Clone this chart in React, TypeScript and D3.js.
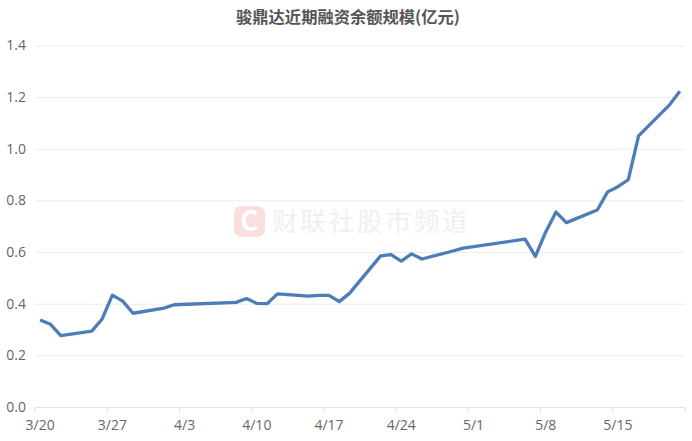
import React, { useEffect, useRef } from "react";
import * as d3 from "d3";

const WIDTH = 692;
const HEIGHT = 441;
const FONT = '"Noto Sans CJK SC", "Noto Sans", sans-serif';
const NUM_FONT = '"Open Sans", "Noto Sans", sans-serif';

const TITLE = "骏鼎达近期融资余额规模(亿元)";
const WATERMARK = "财联社股市频道";
const yTicks = [0, 0.2, 0.4, 0.6, 0.8, 1.0, 1.2, 1.4];

// calendar days from 3/20 to 5/21; non-trading days are null and bridged by the line
const monthDays: [number, number, number][] = [
  [3, 20, 31],
  [4, 1, 30],
  [5, 1, 21],
];
const days: string[] = monthDays.flatMap(([m, from, to]) =>
  d3.range(from, to + 1).map((d) => `${m}/${d}`)
);
const tickDays = ["3/20", "3/27", "4/3", "4/10", "4/17", "4/24", "5/1", "5/8", "5/15"];

const dates = [
  "3/20", "3/21", "3/22", "3/25", "3/26", "3/27", "3/28", "3/29", "4/1", "4/2",
  "4/8", "4/9", "4/10", "4/11", "4/12", "4/15", "4/16", "4/17", "4/18", "4/19",
  "4/22", "4/23", "4/24", "4/25", "4/26", "4/29", "4/30", "5/6", "5/7", "5/8",
  "5/9", "5/10", "5/13", "5/14", "5/15", "5/16", "5/17", "5/20", "5/21",
];
const balance = [
  0.339, 0.322, 0.278, 0.296, 0.342, 0.435, 0.412, 0.365, 0.385, 0.398,
  0.407, 0.422, 0.403, 0.402, 0.44, 0.431, 0.434, 0.434, 0.41, 0.443,
  0.587, 0.592, 0.567, 0.595, 0.575, 0.606, 0.617, 0.652, 0.585, 0.68,
  0.757, 0.716, 0.765, 0.835, 0.855, 0.882, 1.052, 1.172, 1.225,
];

export default function App() {
  const ref = useRef<SVGSVGElement>(null);

  useEffect(() => {
    const svg = d3.select(ref.current!);
    svg.selectAll("*").remove();

    const x = d3.scaleBand<string>().domain(days).range([35, 685]);
    const y = d3.scaleLinear().domain([0, 1.4]).range([407.5, 46]);

    // watermark
    const wm = svg.append("g");
    wm.append("rect")
      .attr("x", 234).attr("y", 206).attr("width", 31).attr("height", 31)
      .attr("rx", 7).attr("fill", "#fbdede");
    wm.append("text")
      .attr("x", 249.5).attr("y", 231)
      .attr("text-anchor", "middle")
      .attr("font-family", FONT).attr("font-size", 28).attr("font-weight", 700)
      .attr("fill", "#ffffff").text("C");
    wm.append("text")
      .attr("x", 272).attr("y", 231)
      .attr("font-family", FONT).attr("font-size", 26)
      .attr("letter-spacing", 2.3)
      .attr("fill", "#f0f0f0").text(WATERMARK);

    // grid
    svg.append("g").selectAll("line").data(yTicks.slice(1)).join("line")
      .attr("x1", 35).attr("x2", 685)
      .attr("y1", (d) => y(d)).attr("y2", (d) => y(d))
      .attr("stroke", "#ececec").attr("stroke-width", 1);

    // y labels
    svg.append("g").selectAll("text").data(yTicks).join("text")
      .attr("x", 26).attr("y", (d) => y(d) - 0.7)
      .attr("dy", "0.36em").attr("text-anchor", "end")
      .attr("font-family", NUM_FONT).attr("font-size", 14)
      .attr("fill", "#666666")
      .text((d) => d.toFixed(1));

    // x axis
    svg.append("line")
      .attr("x1", 35).attr("x2", 685)
      .attr("y1", y(0)).attr("y2", y(0))
      .attr("stroke", "#e0e0e0").attr("stroke-width", 1);
    svg.append("g").selectAll("line").data([...tickDays, null]).join("line")
      .attr("x1", (d) => (d ? x(d)! : 685)).attr("x2", (d) => (d ? x(d)! : 685))
      .attr("y1", y(0)).attr("y2", y(0) + 5)
      .attr("stroke", "#e0e0e0").attr("stroke-width", 1);
    svg.append("g").selectAll("text").data(tickDays).join("text")
      .attr("x", (d) => x(d)! + x.bandwidth() / 2)
      .attr("y", 430)
      .attr("text-anchor", "middle")
      .attr("font-family", NUM_FONT).attr("font-size", 14)
      .attr("fill", "#666666")
      .text((d) => d);

    // line
    const line = d3.line<number>()
      .x((_, i) => x(dates[i])! + x.bandwidth() / 2)
      .y((d) => y(d));
    svg.append("path")
      .attr("d", line(balance))
      .attr("fill", "none")
      .attr("stroke", "#4c7db8")
      .attr("stroke-width", 3.3)
      .attr("stroke-linejoin", "round");

    // title
    svg.append("text")
      .attr("x", 348).attr("y", 23)
      .attr("text-anchor", "middle")
      .attr("font-family", FONT).attr("font-size", 16.3).attr("font-weight", 700)
      .attr("fill", "#555555")
      .text(TITLE);
  }, []);

  return (
    <svg
      ref={ref}
      width={WIDTH}
      height={HEIGHT}
      style={{ position: "absolute", left: 0, top: 0, background: "#fff" }}
    />
  );
}
